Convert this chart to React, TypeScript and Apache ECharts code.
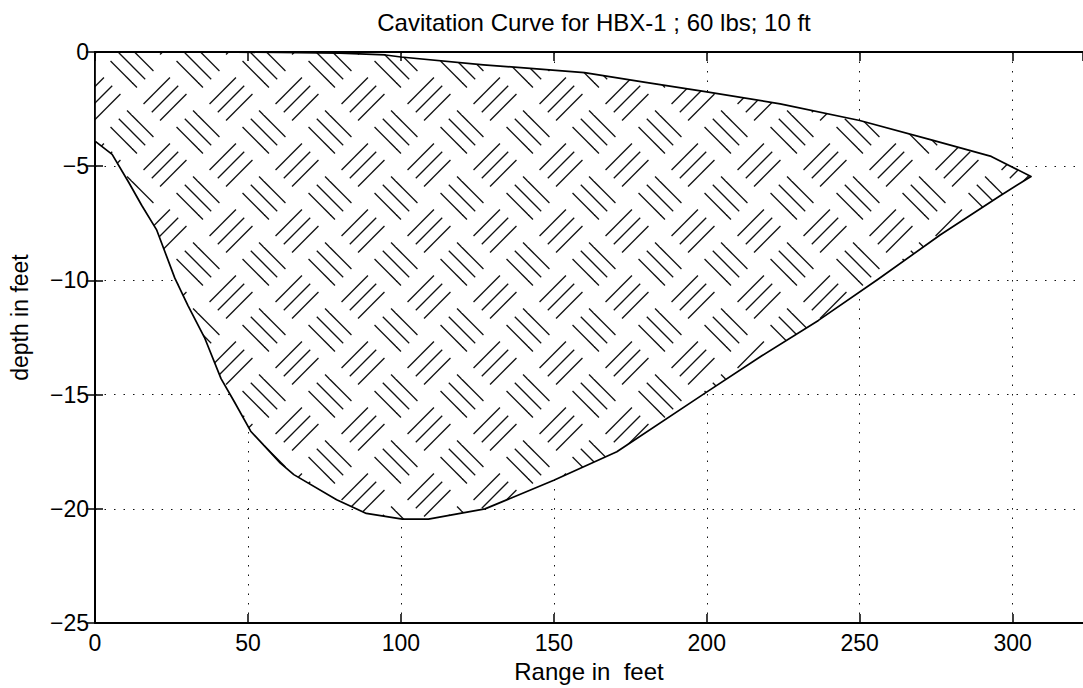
import React, { useEffect, useRef } from 'react';
import * as echarts from 'echarts';

const titleText = 'Cavitation Curve for HBX-1 ; 60 lbs; 10 ft';
const xName = 'Range in  feet';
const yName = 'depth in feet';
const xTickStep = 50;
const yTickStep = 5;
const xMin = 0;
const xMax = 323;
const yMin = -25;
const yMax = 0;

// upper boundary of the cavitation region (left to right)
const upperX = [0, 20, 40, 60, 80, 95, 100, 127, 160, 180, 199, 224, 250, 274, 293, 306];
const upperY = [0, 0, 0, -0.02, -0.05, -0.13, -0.22, -0.56, -0.9, -1.33, -1.72, -2.27, -3.0, -3.87, -4.57, -5.45];

// lower boundary of the cavitation region (left to right)
const lowerX = [0, 5.6, 11, 15.3, 20.2, 26.1, 30.4, 35.8, 41.2, 45.5, 50.9, 60.6, 65, 79, 88.7, 100.5, 109, 127.5, 150, 170.6, 198.7, 218, 236.5, 256, 276.4, 295.8, 306];
const lowerY = [-3.9, -4.48, -5.7, -6.72, -7.8, -9.9, -11.1, -12.5, -14.3, -15.3, -16.6, -18.0, -18.5, -19.6, -20.2, -20.45, -20.45, -20.0, -18.75, -17.5, -15.0, -13.3, -11.75, -9.95, -8.0, -6.3, -5.45];

const FONT = "'Liberation Sans', Arial, Helvetica, sans-serif";

function makeHatch(T: number) {
  const c = document.createElement('canvas');
  c.width = T;
  c.height = T;
  const ctx = c.getContext('2d') as CanvasRenderingContext2D;
  ctx.fillStyle = '#ffffff';
  ctx.fillRect(0, 0, T, T);
  ctx.strokeStyle = '#111111';
  ctx.lineWidth = 1.3;
  const s = T / Math.SQRT2;
  const g = s * 0.25;
  const L = s * 0.8;
  const r = Math.SQRT1_2;
  const u = [r, r];
  const v = [-r, r];
  const block = (cx: number, cy: number, dir: number[], off: number[]) => {
    for (let k = -1; k <= 1; k++) {
      const ox = cx + off[0] * k * g;
      const oy = cy + off[1] * k * g;
      ctx.beginPath();
      ctx.moveTo(ox - (dir[0] * L) / 2, oy - (dir[1] * L) / 2);
      ctx.lineTo(ox + (dir[0] * L) / 2, oy + (dir[1] * L) / 2);
      ctx.stroke();
    }
  };
  [[0, 0], [T, 0], [0, T], [T, T]].forEach(([cx, cy]) => block(cx, cy, u, v));
  block(T / 2, T / 2, v, u);
  return c;
}

export default function App() {
  const ref = useRef<HTMLDivElement>(null);
  useEffect(() => {
    if (!ref.current) return;
    const chart = echarts.init(ref.current, null, { renderer: 'svg' });
    const T = 66;
    const hatch = makeHatch(T);
    const polyX = upperX.concat(lowerX.slice().reverse());
    const polyY = upperY.concat(lowerY.slice().reverse());
    const minus = (v: number) => (v < 0 ? '\u2212' + Math.abs(v) : String(v));
    const dotted = { color: '#111', width: 1, type: [1.5, 8] as any };

    chart.setOption({
      animation: false,
      backgroundColor: '#ffffff',
      title: {
        text: titleText,
        left: 589,
        top: 5,
        textAlign: 'center',
        textStyle: { fontFamily: FONT, fontSize: 24, fontWeight: 'normal', color: '#000' },
      },
      grid: { left: 86, top: 52, bottom: 60, right: 0, containLabel: false },
      xAxis: [
        {
          type: 'value',
          position: 'bottom',
          min: xMin,
          max: xMax,
          interval: xTickStep,
          name: xName,
          nameLocation: 'middle',
          nameGap: 29,
          nameTextStyle: { fontFamily: FONT, fontSize: 24, color: '#000' },
          axisLine: { show: true, onZero: false, lineStyle: { color: '#000', width: 2 } },
          axisTick: { show: true, inside: true, length: 9, lineStyle: { color: '#000', width: 1.5 } },
          axisLabel: { color: '#000', fontFamily: FONT, fontSize: 23, margin: 8, showMaxLabel: false },
          splitLine: { show: true, showMinLine: false, showMaxLine: false, lineStyle: dotted },
        },
        {
          type: 'value',
          position: 'top',
          min: xMin,
          max: xMax,
          interval: xTickStep,
          z: 10,
          axisLine: { show: true, onZero: false, lineStyle: { color: '#000', width: 2 } },
          axisTick: { show: true, inside: true, length: 9, lineStyle: { color: '#000', width: 1.5 } },
          axisLabel: { show: false },
          splitLine: { show: false },
        },
      ],
      yAxis: [
        {
          type: 'value',
          position: 'left',
          min: yMin,
          max: yMax,
          interval: yTickStep,
          name: yName,
          nameLocation: 'middle',
          nameGap: 64,
          nameTextStyle: { fontFamily: FONT, fontSize: 23, color: '#000', padding: [0, 0, 0, 40] },
          axisLine: { show: true, onZero: false, lineStyle: { color: '#000', width: 2 } },
          axisTick: { show: true, inside: true, length: 8, lineStyle: { color: '#000', width: 1.5 } },
          axisLabel: { color: '#000', fontFamily: FONT, fontSize: 23, margin: 6, formatter: minus },
          splitLine: { show: true, showMinLine: false, showMaxLine: false, lineStyle: dotted },
        },
        {
          type: 'value',
          position: 'right',
          min: yMin,
          max: yMax,
          interval: yTickStep,
          z: 10,
          axisLine: { show: false },
          axisTick: { show: true, inside: true, length: 9, lineStyle: { color: '#000', width: 1.5 } },
          axisLabel: { show: false },
          splitLine: { show: false },
        },
      ],
      series: [
        {
          type: 'custom',
          name: 'cavitation region',
          xAxisIndex: 0,
          yAxisIndex: 0,
          data: [[polyX[0], polyY[0]]],
          renderItem: (params: any, api: any) => {
            const pts = polyX.map((x, i) => api.coord([x, polyY[i]]));
            return {
              type: 'polygon',
              shape: { points: pts },
              style: {
                fill: { image: hatch, repeat: 'repeat', imageWidth: T, imageHeight: T },
                stroke: '#000',
                lineWidth: 1.7,
                lineJoin: 'round',
              },
            };
          },
        },
      ],
    });
    return () => chart.dispose();
  }, []);
  return (
    <div
      ref={ref}
      style={{ position: 'fixed', left: 0, top: 0, width: 1083, height: 688, background: '#fff' }}
    />
  );
}
